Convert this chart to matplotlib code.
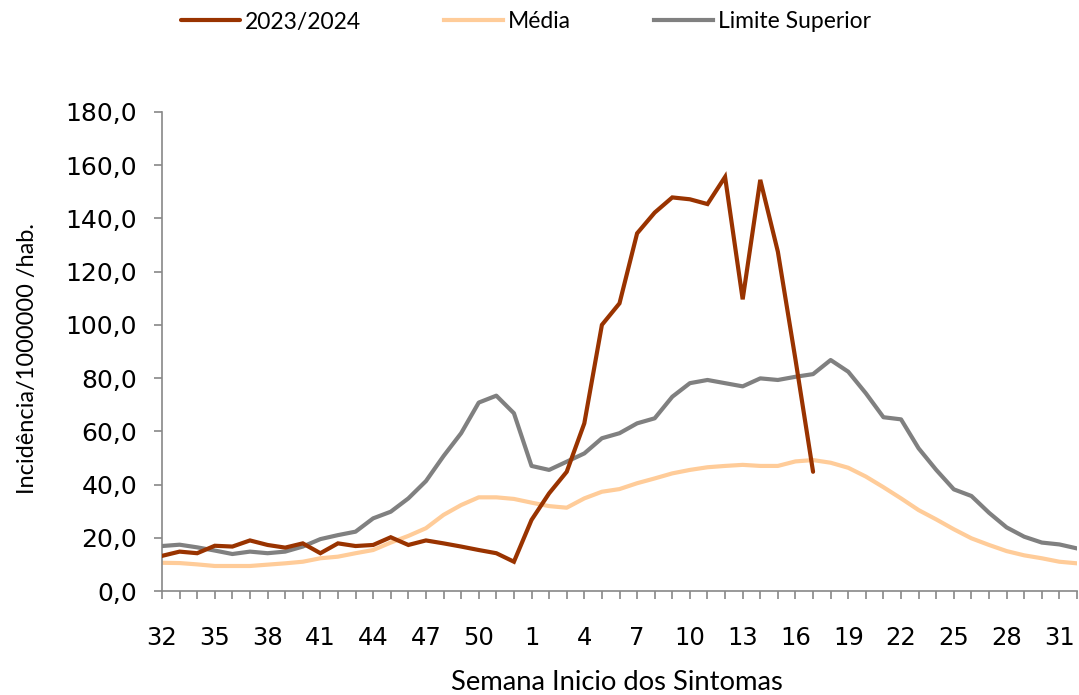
import numpy as np
import matplotlib
matplotlib.use("Agg")
import matplotlib.pyplot as plt
from matplotlib.ticker import FixedLocator, FuncFormatter

# semanas epidemiologicas 32/2023 ... 32/2024
weeks = list(range(32, 53)) + list(range(1, 33))

incid_2324 = [13.2, 14.8, 14.2, 17.0, 16.7, 19.0, 17.3, 16.3, 17.9, 14.2,
              17.9, 16.9, 17.3, 20.2, 17.3, 19.0, 17.9, 16.7, 15.4, 14.2,
              11.0, 26.7, 36.7, 44.8, 63.0, 100.0, 108.1, 134.4, 142.2, 147.9,
              147.2, 145.4, 155.6, 109.6, 154.5, 127.5, 87.0, 44.8]

media = [10.6, 10.5, 10.0, 9.4, 9.4, 9.4, 9.9, 10.4, 11.0, 12.3,
         12.9, 14.2, 15.4, 18.2, 20.7, 23.6, 28.6, 32.3, 35.2, 35.2,
         34.6, 33.2, 31.9, 31.3, 34.8, 37.3, 38.3, 40.5, 42.3, 44.2,
         45.5, 46.5, 47.0, 47.4, 47.0, 47.0, 48.7, 49.2, 48.2, 46.3,
         43.0, 39.0, 34.8, 30.4, 26.9, 23.2, 19.8, 17.3, 15.0, 13.4,
         12.3, 11.0, 10.4]

limite_sup = [16.9, 17.4, 16.4, 15.2, 13.9, 14.8, 14.2, 14.8, 16.7, 19.5,
              21.0, 22.3, 27.3, 29.8, 34.8, 41.3, 50.7, 59.3, 70.8, 73.4,
              66.8, 47.0, 45.5, 48.6, 51.7, 57.4, 59.3, 63.0, 64.9, 73.0,
              78.1, 79.3, 78.1, 76.9, 79.9, 79.3, 80.5, 81.5, 86.8, 82.4,
              74.3, 65.3, 64.5, 53.6, 45.5, 38.2, 35.7, 29.4, 23.9, 20.4,
              18.2, 17.5, 16.0]

labels = ["2023/2024", "Média", "Limite Superior"]
colors = ["#993300", "#FFCC99", "#808080"]

W, H = 1079, 695
fig = plt.figure(figsize=(W / 100, H / 100), dpi=100)
ax = fig.add_axes([162 / W, 104 / H, 915 / W, 479 / H])

x = np.arange(len(weeks))
ax.plot(x[:len(incid_2324)], incid_2324, color=colors[0], lw=3, label=labels[0],
        solid_capstyle="round", solid_joinstyle="miter", zorder=4)
ax.plot(x, media, color=colors[1], lw=3, label=labels[1], zorder=2)
ax.plot(x, limite_sup, color=colors[2], lw=3, label=labels[2], zorder=3)

ax.set_xlim(0, len(weeks) - 1)
ax.set_ylim(0, 180)

for s in ["top", "right"]:
    ax.spines[s].set_visible(False)
for s in ["left", "bottom"]:
    ax.spines[s].set_color("#888888")
    ax.spines[s].set_linewidth(1.2)

# eixo y
ax.set_yticks(np.arange(0, 181, 20))
ax.yaxis.set_major_formatter(FuncFormatter(lambda v, p: f"{v:.1f}".replace(".", ",")))
ax.tick_params(axis="y", length=6, width=1.2, color="#888888", pad=12,
               labelsize=18, labelcolor="black")

# eixo x: um tick por semana, rótulo a cada 3
ax.xaxis.set_minor_locator(FixedLocator(x))
ax.set_xticks(x[::3])
ax.set_xticklabels([str(weeks[i]) for i in x[::3]])
ax.tick_params(axis="x", which="both", length=6, width=1.2, color="#888888")
ax.tick_params(axis="x", which="major", pad=19, labelsize=17.5)

fig.text(617 / W, 1 - 683 / H, "Semana Inicio dos Sintomas", ha="center", va="center",
         fontsize=19.7, family="Lato")
fig.text(28 / W, 1 - 358 / H, "Incidência/1000000 /hab.", ha="center", va="center",
         rotation=90, fontsize=17, family="Lato")

fig.legend(loc="center", bbox_to_anchor=(526 / W, 1 - 22 / H), ncol=3, frameon=False,
           prop={"family": "Lato", "size": 16.5}, handlelength=2.6, handletextpad=0.22,
           columnspacing=3.6)

fig.savefig("out.png", dpi=100)
